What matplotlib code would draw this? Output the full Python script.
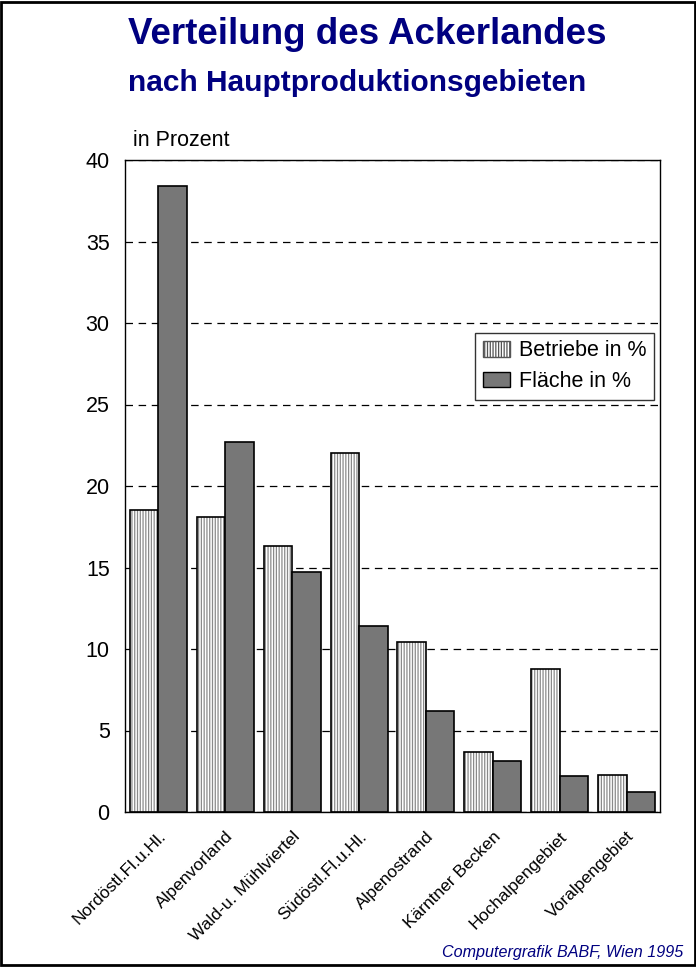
import matplotlib
matplotlib.use("Agg")
import numpy as np
from matplotlib import pyplot as plt
from matplotlib.patches import Patch, Rectangle

plt.rcParams['font.family'] = ['Liberation Sans', 'DejaVu Sans']
plt.rcParams['hatch.linewidth'] = 0.9

gebiete = ['Nordöstl.Fl.u.Hl.', 'Alpenvorland', 'Wald-u. Mühlviertel', 'Südöstl.Fl.u.Hl.',
           'Alpenostrand', 'Kärntner Becken', 'Hochalpengebiet', 'Voralpengebiet']
betriebe = [18.5, 18.1, 16.3, 22.0, 10.4, 3.7, 8.8, 2.3]
flaeche = [38.4, 22.7, 14.7, 11.4, 6.2, 3.1, 2.2, 1.2]
yticks = [0, 5, 10, 15, 20, 25, 30, 35, 40]

navy = '#000080'
grau = '#777777'

fig = plt.figure(figsize=(6.96, 9.67), dpi=100)
ax = fig.add_axes([125/696, 1-812/967, 535/696, 652/967])

x = np.arange(len(gebiete))
w = 0.426
# hatched bars: grey hatch first, black outline on top
ax.bar(x - w/2, betriebe, w, color='white', edgecolor='#8a8a8a', hatch='||||||', linewidth=0, zorder=2)
ax.bar(x - w/2, betriebe, w, fill=False, edgecolor='black', linewidth=1.2, zorder=3)
ax.bar(x + w/2, flaeche, w, color=grau, edgecolor='black', linewidth=1.2, zorder=3)

ax.set_xlim(-0.5, 7.5)
ax.set_ylim(0, 40)
ax.set_yticks(yticks)
ax.set_yticklabels([str(v) for v in yticks], fontsize=15.5)
ax.yaxis.grid(True, linestyle=(0, (6, 4.5)), color='black', linewidth=0.9, zorder=0)
ax.set_axisbelow(True)
ax.set_xticks(x)
ax.set_xticklabels(gebiete, rotation=45, ha='right', rotation_mode='anchor', fontsize=12.5)
ax.tick_params(axis='both', length=0)
ax.tick_params(axis='x', pad=12)
ax.tick_params(axis='y', pad=11)
for s in ax.spines.values():
    s.set_linewidth(1.0)
    s.set_color('black')

leg = ax.legend(handles=[Patch(facecolor='white', edgecolor='#555555', hatch='||||||', label='Betriebe in %'),
                         Patch(facecolor=grau, edgecolor='black', label='Fläche in %')],
                loc='upper right', bbox_to_anchor=(0.988, 0.735), fontsize=15.5, frameon=True,
                fancybox=False, edgecolor='black', handlelength=1.25, handleheight=0.75,
                handletextpad=0.4, borderpad=0.35, labelspacing=0.45, borderaxespad=0)
leg.get_frame().set_linewidth(1.0)

fig.text(367/696, 1-34/967, 'Verteilung des Ackerlandes', ha='center', va='center',
         fontsize=26.5, fontweight='bold', color=navy)
fig.text(357/696, 1-83/967, 'nach Hauptproduktionsgebieten', ha='center', va='center',
         fontsize=21.5, fontweight='bold', color=navy)
fig.text(133/696, 1-140/967, 'in Prozent', ha='left', va='center', fontsize=15.5)
fig.text(683/696, 1-953/967, 'Computergrafik BABF, Wien 1995', ha='right', va='center',
         fontsize=11.6, style='italic', color=navy)

fig.patches.append(Rectangle((0.002, 0.002), 0.996, 0.996, transform=fig.transFigure,
                             fill=False, edgecolor='black', linewidth=2))

fig.savefig('out.png', dpi=100)
